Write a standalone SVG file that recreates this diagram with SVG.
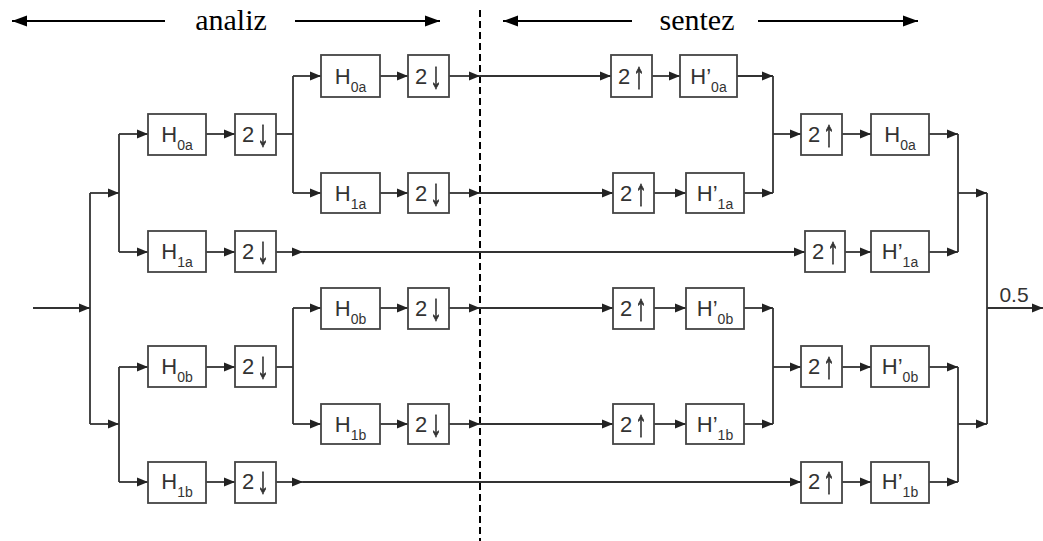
<svg xmlns="http://www.w3.org/2000/svg" width="1043" height="541" viewBox="0 0 1043 541">
  <style>
    .box { fill: #ffffff; stroke: #444444; stroke-width: 1.8; }
    .lbl { font-family: "Liberation Sans", Arial, sans-serif; font-size: 22px; fill: #333333; text-anchor: middle; }
    .arw { font-family: "Liberation Sans", Arial, sans-serif; font-size: 22px; fill: #333333; stroke: #333333; stroke-width: 0.6; text-anchor: middle; filter: url(#flat); }
    .sub { font-size: 14px; }
    .wire { fill: none; stroke: #333333; stroke-width: 1.8; }
    .hdr { fill: none; stroke: #000000; stroke-width: 2; }
    .title { font-family: "Liberation Serif", "Times New Roman", serif; font-size: 30px; fill: #000000; text-anchor: middle; }
  </style>
  <defs>
    <!-- renders the stretched rate-change arrows off-screen so they stay neutral grey -->
    <filter id="flat" x="-50%" y="-50%" width="200%" height="200%">
      <feOffset dx="0" dy="0"/>
    </filter>
    <marker id="arr" markerUnits="userSpaceOnUse" markerWidth="12" markerHeight="10" refX="11" refY="5" orient="auto">
      <path d="M0,0.5 L11,5 L0,9.5 Z" fill="#222222"/>
    </marker>
    <marker id="harr" markerUnits="userSpaceOnUse" markerWidth="16" markerHeight="12" refX="15" refY="6" orient="auto">
      <path d="M0,0.5 L15,6 L0,11.5 Z" fill="#000000"/>
    </marker>
  </defs>

  <!-- header: analysis / synthesis ranges -->
  <g id="header">
    <line class="hdr" x1="165" y1="21" x2="12" y2="21" marker-end="url(#harr)"/>
    <line class="hdr" x1="295" y1="21" x2="440" y2="21" marker-end="url(#harr)"/>
    <text class="title" x="231" y="30">analiz</text>
    <line class="hdr" x1="632" y1="21" x2="503" y2="21" marker-end="url(#harr)"/>
    <line class="hdr" x1="758" y1="21" x2="918" y2="21" marker-end="url(#harr)"/>
    <text class="title" x="697" y="30">sentez</text>
    <line x1="480" y1="10" x2="480" y2="541" stroke="#000000" stroke-width="2" stroke-dasharray="7 4"/>
  </g>

  <!-- connectors -->
  <g id="connectors">
    <!-- input and first split -->
    <line class="wire" x1="33" y1="308" x2="90" y2="308" marker-end="url(#arr)"/>
    <line class="wire" x1="90" y1="193" x2="90" y2="424"/>
    <line class="wire" x1="90" y1="193" x2="119" y2="193" marker-end="url(#arr)"/>
    <line class="wire" x1="90" y1="424" x2="119" y2="424" marker-end="url(#arr)"/>

    <!-- branch a, level 1 -->
    <line class="wire" x1="119" y1="134" x2="119" y2="252"/>
    <line class="wire" x1="119" y1="134" x2="148" y2="134" marker-end="url(#arr)"/>
    <line class="wire" x1="119" y1="252" x2="148" y2="252" marker-end="url(#arr)"/>
    <line class="wire" x1="206" y1="134" x2="235" y2="134" marker-end="url(#arr)"/>
    <line class="wire" x1="206" y1="252" x2="235" y2="252" marker-end="url(#arr)"/>
    <line class="wire" x1="276" y1="134" x2="293" y2="134"/>

    <!-- branch a, level 2 -->
    <line class="wire" x1="293" y1="76" x2="293" y2="193"/>
    <line class="wire" x1="293" y1="76" x2="321" y2="76" marker-end="url(#arr)"/>
    <line class="wire" x1="293" y1="193" x2="321" y2="193" marker-end="url(#arr)"/>
    <line class="wire" x1="380" y1="76" x2="408" y2="76" marker-end="url(#arr)"/>
    <line class="wire" x1="380" y1="193" x2="408" y2="193" marker-end="url(#arr)"/>
    <line class="wire" x1="449" y1="76" x2="480" y2="76" marker-end="url(#arr)"/>
    <line class="wire" x1="449" y1="193" x2="480" y2="193" marker-end="url(#arr)"/>
    <line class="wire" x1="480" y1="76" x2="611" y2="76" marker-end="url(#arr)"/>
    <line class="wire" x1="480" y1="193" x2="613" y2="193" marker-end="url(#arr)"/>
    <line class="wire" x1="652" y1="76" x2="680" y2="76" marker-end="url(#arr)"/>
    <line class="wire" x1="654" y1="193" x2="686" y2="193" marker-end="url(#arr)"/>
    <line class="wire" x1="737" y1="76" x2="773" y2="76" marker-end="url(#arr)"/>
    <line class="wire" x1="744" y1="193" x2="773" y2="193" marker-end="url(#arr)"/>
    <line class="wire" x1="773" y1="76" x2="773" y2="193"/>
    <line class="wire" x1="773" y1="134" x2="801" y2="134" marker-end="url(#arr)"/>

    <!-- branch a, synthesis level 1 -->
    <line class="wire" x1="842" y1="134" x2="871" y2="134" marker-end="url(#arr)"/>
    <line class="wire" x1="929" y1="134" x2="958" y2="134" marker-end="url(#arr)"/>
    <line class="wire" x1="276" y1="252" x2="303" y2="252" marker-end="url(#arr)"/>
    <line class="wire" x1="303" y1="252" x2="805" y2="252" marker-end="url(#arr)"/>
    <line class="wire" x1="845" y1="252" x2="871" y2="252" marker-end="url(#arr)"/>
    <line class="wire" x1="929" y1="252" x2="958" y2="252" marker-end="url(#arr)"/>
    <line class="wire" x1="958" y1="134" x2="958" y2="252"/>
    <line class="wire" x1="958" y1="193" x2="987" y2="193" marker-end="url(#arr)"/>

    <!-- output -->
    <line class="wire" x1="987" y1="193" x2="987" y2="424"/>
    <line class="wire" x1="987" y1="308" x2="1043" y2="308" marker-end="url(#arr)"/>

    <!-- branch b, level 1 -->
    <line class="wire" x1="119" y1="367" x2="119" y2="482"/>
    <line class="wire" x1="119" y1="367" x2="148" y2="367" marker-end="url(#arr)"/>
    <line class="wire" x1="119" y1="482" x2="148" y2="482" marker-end="url(#arr)"/>
    <line class="wire" x1="206" y1="367" x2="235" y2="367" marker-end="url(#arr)"/>
    <line class="wire" x1="206" y1="482" x2="235" y2="482" marker-end="url(#arr)"/>
    <line class="wire" x1="276" y1="367" x2="293" y2="367"/>

    <!-- branch b, level 2 -->
    <line class="wire" x1="293" y1="308" x2="293" y2="424"/>
    <line class="wire" x1="293" y1="308" x2="321" y2="308" marker-end="url(#arr)"/>
    <line class="wire" x1="293" y1="424" x2="321" y2="424" marker-end="url(#arr)"/>
    <line class="wire" x1="380" y1="308" x2="408" y2="308" marker-end="url(#arr)"/>
    <line class="wire" x1="380" y1="424" x2="408" y2="424" marker-end="url(#arr)"/>
    <line class="wire" x1="449" y1="308" x2="480" y2="308" marker-end="url(#arr)"/>
    <line class="wire" x1="449" y1="424" x2="480" y2="424" marker-end="url(#arr)"/>
    <line class="wire" x1="480" y1="308" x2="613" y2="308" marker-end="url(#arr)"/>
    <line class="wire" x1="480" y1="424" x2="613" y2="424" marker-end="url(#arr)"/>
    <line class="wire" x1="654" y1="308" x2="686" y2="308" marker-end="url(#arr)"/>
    <line class="wire" x1="654" y1="424" x2="686" y2="424" marker-end="url(#arr)"/>
    <line class="wire" x1="744" y1="308" x2="773" y2="308" marker-end="url(#arr)"/>
    <line class="wire" x1="744" y1="424" x2="773" y2="424" marker-end="url(#arr)"/>
    <line class="wire" x1="773" y1="308" x2="773" y2="424"/>
    <line class="wire" x1="773" y1="367" x2="801" y2="367" marker-end="url(#arr)"/>

    <!-- branch b, synthesis level 1 -->
    <line class="wire" x1="842" y1="367" x2="871" y2="367" marker-end="url(#arr)"/>
    <line class="wire" x1="929" y1="367" x2="958" y2="367" marker-end="url(#arr)"/>
    <line class="wire" x1="276" y1="482" x2="303" y2="482" marker-end="url(#arr)"/>
    <line class="wire" x1="303" y1="482" x2="801" y2="482" marker-end="url(#arr)"/>
    <line class="wire" x1="842" y1="482" x2="871" y2="482" marker-end="url(#arr)"/>
    <line class="wire" x1="929" y1="482" x2="958" y2="482" marker-end="url(#arr)"/>
    <line class="wire" x1="958" y1="367" x2="958" y2="482"/>
    <line class="wire" x1="958" y1="424" x2="987" y2="424" marker-end="url(#arr)"/>
  </g>

  <!-- analysis filters, level 1 -->
  <g id="h0a-1"><rect class="box" x="148" y="114" width="58" height="41"/><text class="lbl" x="177" y="142">H<tspan class="sub" dy="8">0a</tspan></text></g>
  <g id="d-a0-1"><rect class="box" x="235" y="114" width="41" height="41"/><text class="lbl" x="248" y="142">2</text><text class="arw" transform="translate(263,146) scale(1,1.7)">↓</text></g>
  <g id="h1a-1"><rect class="box" x="148" y="231" width="58" height="41"/><text class="lbl" x="177" y="259">H<tspan class="sub" dy="8">1a</tspan></text></g>
  <g id="d-a1-1"><rect class="box" x="235" y="231" width="41" height="41"/><text class="lbl" x="248" y="259">2</text><text class="arw" transform="translate(263,263) scale(1,1.7)">↓</text></g>
  <g id="h0b-1"><rect class="box" x="148" y="346" width="58" height="41"/><text class="lbl" x="177" y="374">H<tspan class="sub" dy="8">0b</tspan></text></g>
  <g id="d-b0-1"><rect class="box" x="235" y="346" width="41" height="41"/><text class="lbl" x="248" y="374">2</text><text class="arw" transform="translate(263,378) scale(1,1.7)">↓</text></g>
  <g id="h1b-1"><rect class="box" x="148" y="462" width="58" height="41"/><text class="lbl" x="177" y="489">H<tspan class="sub" dy="8">1b</tspan></text></g>
  <g id="d-b1-1"><rect class="box" x="235" y="462" width="41" height="41"/><text class="lbl" x="248" y="489">2</text><text class="arw" transform="translate(263,493) scale(1,1.7)">↓</text></g>

  <!-- analysis filters, level 2 -->
  <g id="h0a-2"><rect class="box" x="321" y="55" width="59" height="42"/><text class="lbl" x="350.5" y="84">H<tspan class="sub" dy="8">0a</tspan></text></g>
  <g id="d-a0-2"><rect class="box" x="408" y="55" width="41" height="42"/><text class="lbl" x="421" y="84">2</text><text class="arw" transform="translate(436,88) scale(1,1.7)">↓</text></g>
  <g id="h1a-2"><rect class="box" x="321" y="173" width="59" height="40"/><text class="lbl" x="350.5" y="201">H<tspan class="sub" dy="8">1a</tspan></text></g>
  <g id="d-a1-2"><rect class="box" x="408" y="173" width="41" height="40"/><text class="lbl" x="421" y="201">2</text><text class="arw" transform="translate(436,205) scale(1,1.7)">↓</text></g>
  <g id="h0b-2"><rect class="box" x="321" y="288" width="59" height="41"/><text class="lbl" x="350.5" y="316">H<tspan class="sub" dy="8">0b</tspan></text></g>
  <g id="d-b0-2"><rect class="box" x="408" y="288" width="41" height="41"/><text class="lbl" x="421" y="316">2</text><text class="arw" transform="translate(436,320) scale(1,1.7)">↓</text></g>
  <g id="h1b-2"><rect class="box" x="321" y="404" width="59" height="40"/><text class="lbl" x="350.5" y="432">H<tspan class="sub" dy="8">1b</tspan></text></g>
  <g id="d-b1-2"><rect class="box" x="408" y="404" width="41" height="40"/><text class="lbl" x="421" y="432">2</text><text class="arw" transform="translate(436,436) scale(1,1.7)">↓</text></g>

  <!-- synthesis filters, level 2 -->
  <g id="u-a0-2"><rect class="box" x="611" y="55" width="41" height="42"/><text class="lbl" x="624" y="84">2</text><text class="arw" transform="translate(639,88) scale(1,1.7)">↑</text></g>
  <g id="g0a-2"><rect class="box" x="680" y="55" width="57" height="42"/><text class="lbl" x="708.5" y="84">H’<tspan class="sub" dy="8">0a</tspan></text></g>
  <g id="u-a1-2"><rect class="box" x="613" y="173" width="41" height="40"/><text class="lbl" x="626" y="201">2</text><text class="arw" transform="translate(641,205) scale(1,1.7)">↑</text></g>
  <g id="g1a-2"><rect class="box" x="686" y="173" width="58" height="40"/><text class="lbl" x="715" y="201">H’<tspan class="sub" dy="8">1a</tspan></text></g>
  <g id="u-b0-2"><rect class="box" x="613" y="288" width="41" height="41"/><text class="lbl" x="626" y="316">2</text><text class="arw" transform="translate(641,320) scale(1,1.7)">↑</text></g>
  <g id="g0b-2"><rect class="box" x="686" y="288" width="58" height="41"/><text class="lbl" x="715" y="316">H’<tspan class="sub" dy="8">0b</tspan></text></g>
  <g id="u-b1-2"><rect class="box" x="613" y="404" width="41" height="40"/><text class="lbl" x="626" y="432">2</text><text class="arw" transform="translate(641,436) scale(1,1.7)">↑</text></g>
  <g id="g1b-2"><rect class="box" x="686" y="404" width="58" height="40"/><text class="lbl" x="715" y="432">H’<tspan class="sub" dy="8">1b</tspan></text></g>

  <!-- synthesis filters, level 1 -->
  <g id="u-a0-1"><rect class="box" x="801" y="114" width="41" height="41"/><text class="lbl" x="814" y="142">2</text><text class="arw" transform="translate(829,146) scale(1,1.7)">↑</text></g>
  <g id="g0a-1"><rect class="box" x="871" y="114" width="58" height="41"/><text class="lbl" x="900" y="142">H<tspan class="sub" dy="8">0a</tspan></text></g>
  <g id="u-a1-1"><rect class="box" x="805" y="231" width="40" height="41"/><text class="lbl" x="818" y="259">2</text><text class="arw" transform="translate(833,263) scale(1,1.7)">↑</text></g>
  <g id="g1a-1"><rect class="box" x="871" y="231" width="58" height="41"/><text class="lbl" x="900" y="259">H’<tspan class="sub" dy="8">1a</tspan></text></g>
  <g id="u-b0-1"><rect class="box" x="801" y="346" width="41" height="41"/><text class="lbl" x="814" y="374">2</text><text class="arw" transform="translate(829,378) scale(1,1.7)">↑</text></g>
  <g id="g0b-1"><rect class="box" x="871" y="346" width="58" height="41"/><text class="lbl" x="900" y="374">H’<tspan class="sub" dy="8">0b</tspan></text></g>
  <g id="u-b1-1"><rect class="box" x="801" y="462" width="41" height="41"/><text class="lbl" x="814" y="489">2</text><text class="arw" transform="translate(829,493) scale(1,1.7)">↑</text></g>
  <g id="g1b-1"><rect class="box" x="871" y="462" width="58" height="41"/><text class="lbl" x="900" y="489">H’<tspan class="sub" dy="8">1b</tspan></text></g>

  <!-- output gain -->
  <g id="gain"><text class="lbl" x="1014" y="302" style="font-size:21px">0.5</text></g>
</svg>
